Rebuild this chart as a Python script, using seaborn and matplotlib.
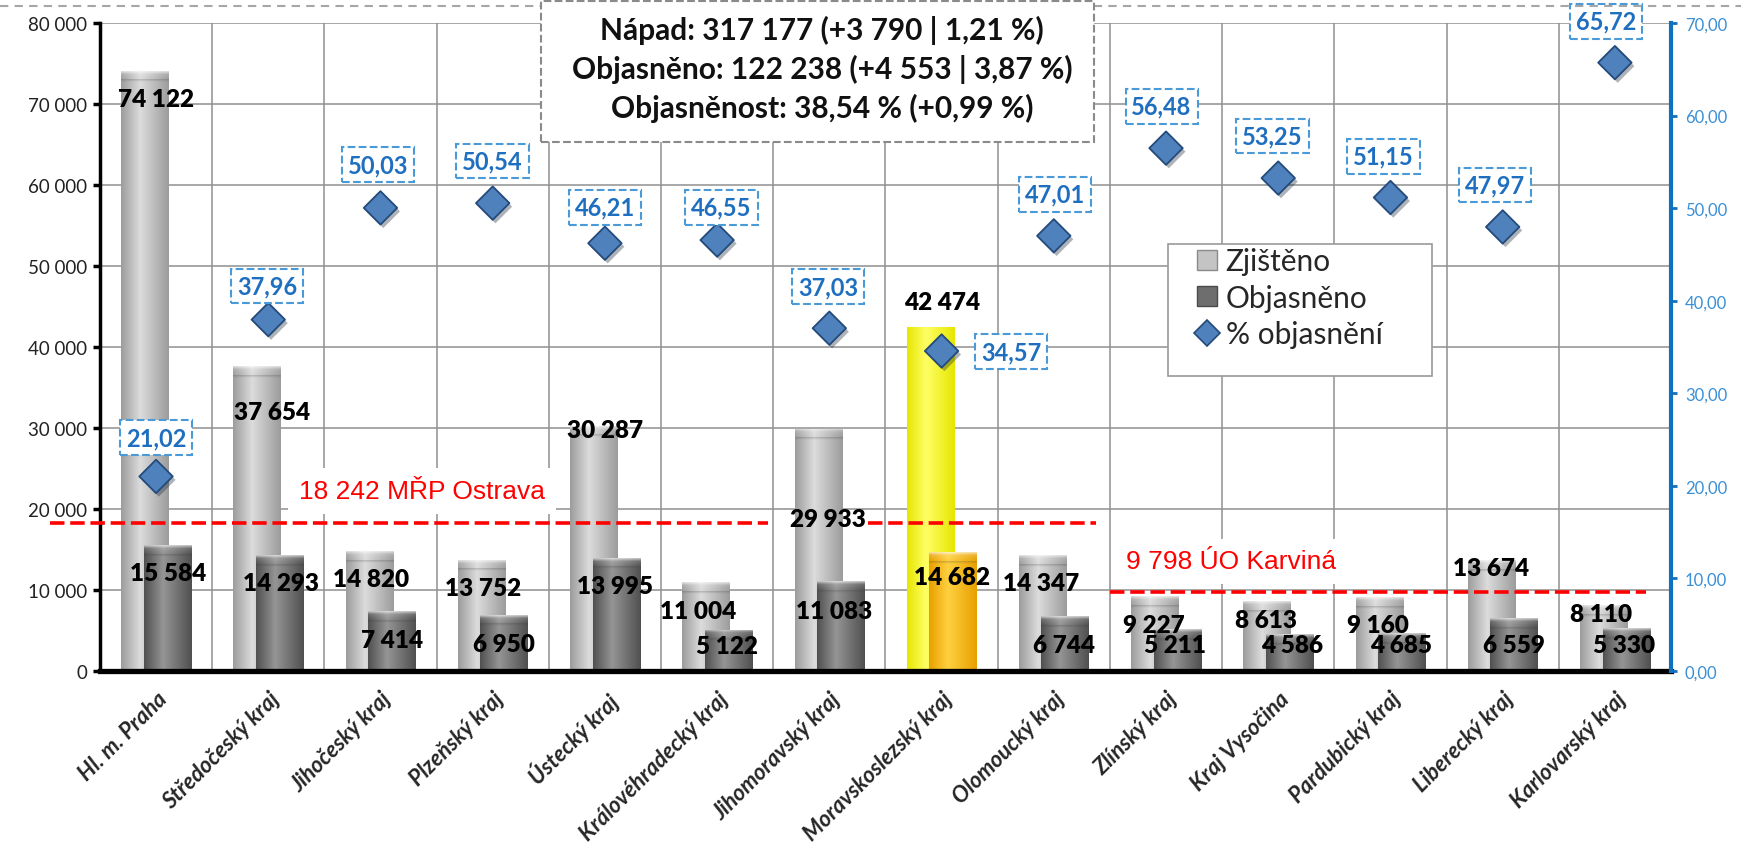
import numpy as np
import pandas as pd
import matplotlib
matplotlib.use("Agg")
import matplotlib.pyplot as plt
import seaborn as sns
from matplotlib.patches import Patch, Rectangle
from matplotlib.lines import Line2D
from matplotlib.colors import LinearSegmentedColormap
import matplotlib.patheffects as pe

# ---------------- data ----------------
categories = ["Hl. m. Praha", "Středočeský kraj", "Jihočeský kraj", "Plzeňský kraj",
              "Ústecký kraj", "Královéhradecký kraj", "Jihomoravský kraj",
              "Moravskoslezský kraj", "Olomoucký kraj", "Zlínský kraj", "Kraj Vysočina",
              "Pardubický kraj", "Liberecký kraj", "Karlovarský kraj"]
zjisteno = [74122, 37654, 14820, 13752, 30287, 11004, 29933, 42474, 14347, 9227, 8613, 9160, 13674, 8110]
objasneno = [15584, 14293, 7414, 6950, 13995, 5122, 11083, 14682, 6744, 5211, 4586, 4685, 6559, 5330]
objasnenost = [21.02, 37.96, 50.03, 50.54, 46.21, 46.55, 37.03, 34.57, 47.01, 56.48, 53.25, 51.15, 47.97, 65.72]
summary_lines = ["Nápad: 317 177 (+3 790 | 1,21 %)",
                 "Objasněno: 122 238 (+4 553 | 3,87 %)",
                 "Objasněnost: 38,54 % (+0,99 %)"]
ref_values = [18242, 9798]
ref_labels = ["18 242 MŘP Ostrava", "9 798 ÚO Karviná"]
legend_labels = ["Zjištěno", "Objasněno", "% objasnění"]
highlight = "Moravskoslezský kraj"
yticks_left = list(range(0, 80001, 10000))
yticks_right = list(range(0, 71, 10))

# ---------------- layout (label placement, as in the original) ----------------
zj_lab_x = [0.0, 1.03, 1.92, 2.91, 4.0, 4.83, 5.99, 7.0, 7.89, 8.89, 9.89, 10.89, 11.9, 12.88]
zj_lab_y = [70600, 31970, 11375, 10292, 29777, 7417, 18800, 45600, 10833, 5708, 6250, 5708, 12708, 7083]
ob_lab_x = [0.11, 1.11, 2.10, 3.10, 4.09, 5.09, 6.04, 7.09, 8.09, 9.08, 10.12, 11.09, 12.10, 13.08]
ob_lab_y = [12083, 10833, 3875, 3333, 10542, 3125, 7417, 11667, 3208, 3208, 3208, 3208, 3208, 3208]
pct_lab_x = [0.0, 0.99, 1.98, 3.0, 4.0, 5.04, 5.99, 7.62, 8.01, 8.96, 9.95, 10.94, 11.93, 12.92]
pct_lab_y = [25.2, 41.6, 54.7, 55.1, 50.1, 50.1, 41.5, 34.5, 51.5, 61.0, 57.8, 55.6, 52.5, 70.2]
ref_spans = [[(-0.946, 5.45), (6.34, 8.375)], [(8.5, 13.28)]]
ref_text_xy = [(2.37, 22230), (9.58, 13540)]

LIGHT_OFF, DARK_OFF, BAR_W = -0.1, 0.1, 0.42
BLUE_TXT = "#1f6fc0"

def fmt_int(v):
    return f"{v:,}".replace(",", " ")

def fmt_pct(v):
    return f"{v:.2f}".replace(".", ",")

sns.set_theme(style="white")
plt.rcParams["font.family"] = ["Lato", "DejaVu Sans"]

fig = plt.figure(figsize=(17.41, 8.45), dpi=100)
ax = fig.add_axes([0.0574, 0.2047, 0.9024, 0.7669])

n = len(categories)
df = pd.DataFrame({"kraj": categories, "pos": np.arange(n, dtype=float),
                   "zj": zjisteno, "obj": objasneno, "pct": objasnenost})

pal_light = {k: ("#ffff10" if k == highlight else "#c2c2c2") for k in categories}
pal_dark = {k: ("#ffc000" if k == highlight else "#777777") for k in categories}

n0 = len(ax.patches)
sns.barplot(x=df["pos"] + LIGHT_OFF, y=df["zj"], hue=df["kraj"], palette=pal_light,
            native_scale=True, width=BAR_W, dodge=False, legend=False, errorbar=None,
            saturation=1, linewidth=0, ax=ax)
light_patches = sorted(ax.patches[n0:], key=lambda p: p.get_x())
n1 = len(ax.patches)
sns.barplot(x=df["pos"] + DARK_OFF, y=df["obj"], hue=df["kraj"], palette=pal_dark,
            native_scale=True, width=BAR_W, dodge=False, legend=False, errorbar=None,
            saturation=1, linewidth=0, ax=ax)
dark_patches = sorted(ax.patches[n1:], key=lambda p: p.get_x())


def shade(patches, schemes, z, bevel):
    t = np.linspace(0, 1, 200)
    u = np.where(t < 0.4, 0.5 * t / 0.4, 0.5 + 0.5 * (t - 0.4) / 0.6)
    for p, (edge, mid), bv in zip(patches, schemes, bevel):
        p.set_zorder(z)
        cmap = LinearSegmentedColormap.from_list("s", [edge, mid, edge])
        x0, w, h = p.get_x(), p.get_width(), p.get_height()
        im = ax.imshow(u[None, :], extent=[x0, x0 + w, 0, h], origin="lower", aspect="auto",
                       cmap=cmap, vmin=0, vmax=1, interpolation="bilinear", zorder=z + 0.05)
        im.set_clip_path(p)
        if not bv:
            continue
        c = min(1100, h * 0.4)
        cap = np.zeros((40, 1, 4))
        cap[..., :3] = 1.0
        cap[:, 0, 3] = np.concatenate([np.linspace(0, 0.15, 25), np.linspace(0.15, 0.7, 15)])
        im2 = ax.imshow(cap, extent=[x0, x0 + w, h - c, h], origin="lower", aspect="auto",
                        interpolation="bilinear", zorder=z + 0.08)
        im2.set_clip_path(p)
        line = np.zeros((8, 1, 4))
        line[..., :3] = 0.25
        line[:, 0, 3] = np.linspace(0.0, 0.25, 8)
        c2 = min(350, h * 0.1)
        im3 = ax.imshow(line, extent=[x0, x0 + w, h - c - c2, h - c], origin="lower",
                        aspect="auto", interpolation="bilinear", zorder=z + 0.09)
        im3.set_clip_path(p)


light_schemes = [("#e6e600", "#ffff66") if k == highlight else ("#9c9c9c", "#dcdcdc") for k in categories]
dark_schemes = [("#e8a000", "#ffd040") if k == highlight else ("#505050", "#959595") for k in categories]
bevels = [k != highlight for k in categories]
shade(light_patches, light_schemes, 2.0, bevels)
shade(dark_patches, dark_schemes, 2.4, [True] * n)

# reference lines
for val, spans in zip(ref_values, ref_spans):
    for (a, b) in spans:
        ax.plot([a, b], [val, val], color="#ff0000", lw=2.6, ls=(0, (4, 1.6)),
                zorder=3.5, clip_on=False, solid_capstyle="butt")
for txt, (tx, ty) in zip(ref_labels, ref_text_xy):
    ax.text(tx, ty, txt, ha="center", va="center", color="#ff0000", fontsize=19,
            family=["Liberation Sans", "DejaVu Sans"], zorder=3.6,
            bbox=dict(boxstyle="square,pad=0.4", fc="white", ec="none"))

# bar labels
for v, x, y in zip(zjisteno, zj_lab_x, zj_lab_y):
    ax.text(x, y, fmt_int(v), ha="center", va="center", fontsize=17.5, fontweight="heavy",
            color="black", zorder=4)
for v, x, y in zip(objasneno, ob_lab_x, ob_lab_y):
    ax.text(x, y, fmt_int(v), ha="center", va="center", fontsize=17.5, fontweight="heavy",
            color="black", zorder=4)

# axes styling
ax.set_xlim(-0.5, n - 0.5)
ax.set_ylim(0, 80000)
ax.set_yticks(yticks_left)
ax.set_yticklabels([fmt_int(v) for v in yticks_left])
ax.set_xticks(np.arange(n))
ax.set_xticklabels(categories, rotation=45, ha="right", va="top", rotation_mode="anchor",
                   fontstyle="italic", fontweight="bold", fontsize=16)
ax.set_xticks(np.arange(-0.5, n, 1), minor=True)
ax.tick_params(axis="x", which="major", length=0, pad=12)
ax.tick_params(axis="x", which="minor", length=7, width=2.5, color="black", direction="out")
ax.tick_params(axis="y", which="major", length=5, width=2.5, color="black", direction="out",
               labelsize=13.5, labelcolor="#222222", pad=4, left=True)
ax.set_axisbelow(True)
ax.grid(False)
ax.yaxis.grid(True, color="#8f8f8f", lw=1.1)
ax.xaxis.grid(True, which="minor", color="#8f8f8f", lw=1.1)
ax.set_xlabel("")
ax.set_ylabel("")
ax.spines["top"].set_visible(False)
ax.spines["right"].set_visible(False)
ax.spines["left"].set_color("black")
ax.spines["left"].set_linewidth(2.5)
ax.spines["bottom"].set_color("black")
ax.spines["bottom"].set_linewidth(3.8)
ax.spines["bottom"].set_zorder(5)

# secondary axis: % objasnění
ax2 = ax.twinx()
sns.scatterplot(data=df, x="pos", y="pct", marker="D", s=290, color="#4f81bd",
                edgecolor="#234a7a", linewidth=1.3, legend=False, ax=ax2, zorder=5)
ax2.collections[-1].set_path_effects([pe.SimplePatchShadow(offset=(2, -2.5), alpha=0.35),
                                      pe.Normal()])
for v, x, y in zip(objasnenost, pct_lab_x, pct_lab_y):
    ax2.text(x, y, fmt_pct(v), ha="center", va="center", fontsize=17, fontweight="bold",
             color=BLUE_TXT, zorder=6, clip_on=False,
             bbox=dict(boxstyle="square,pad=0.25", fc="white", ec="#4a9ad8", ls="--", lw=1.5))
ax2.set_ylim(0, 70)
ax2.set_xlim(-0.5, n - 0.5)
ax2.set_yticks(yticks_right)
ax2.set_yticklabels([fmt_pct(v) for v in yticks_right])
ax2.set_ylabel("")
ax2.set_xlabel("")
ax2.grid(False)
ax2.tick_params(axis="y", length=4, width=2, color="#1070c0", direction="out",
                labelsize=12, labelcolor="#3a8fd6", pad=6, right=True)
for s in ["left", "top", "bottom"]:
    ax2.spines[s].set_visible(False)
ax2.spines["right"].set_color("#1070c0")
ax2.spines["right"].set_linewidth(3)

# legend
ax2.add_patch(Rectangle((0.6798, 0.4552), 0.168, 0.2037, transform=ax2.transAxes,
                        fc="white", ec="#9a9a9a", lw=1.2, zorder=7))
handles = [Patch(fc="#c4c4c4", ec="#8a8a8a", lw=1),
           Patch(fc="#6e6e6e", ec="#4a4a4a", lw=1),
           Line2D([], [], marker="D", ls="none", ms=13, mfc="#4f81bd", mec="#234a7a", mew=1.2)]
leg = ax2.legend(handles, legend_labels, loc="upper left", bbox_to_anchor=(0.6985, 0.654),
                 frameon=False, fontsize=21.5, handlelength=0.65, handleheight=0.65,
                 handletextpad=0.3, labelspacing=0.28, borderpad=0, borderaxespad=0)
leg.set_zorder(8)

# summary box + top dashed line
fig.add_artist(Line2D([0, 1], [0.9917, 0.9917], transform=fig.transFigure, color="#a6a6a6",
                      ls=(0, (4, 3)), lw=1.5, zorder=1))
fig.add_artist(Rectangle((0.3107, 0.8308), 0.3176, 0.1668, transform=fig.transFigure,
                         fc="white", ec="#8a8a8a", ls="--", lw=1.5, zorder=2))
for i, line in enumerate(summary_lines):
    fig.text(0.4722, 1 - (30 + 39 * i) / 845, line, ha="center", va="center", fontsize=21.5,
             fontweight="bold", color="#111111", zorder=3)

fig.savefig("out.png", dpi=100, facecolor="white")
